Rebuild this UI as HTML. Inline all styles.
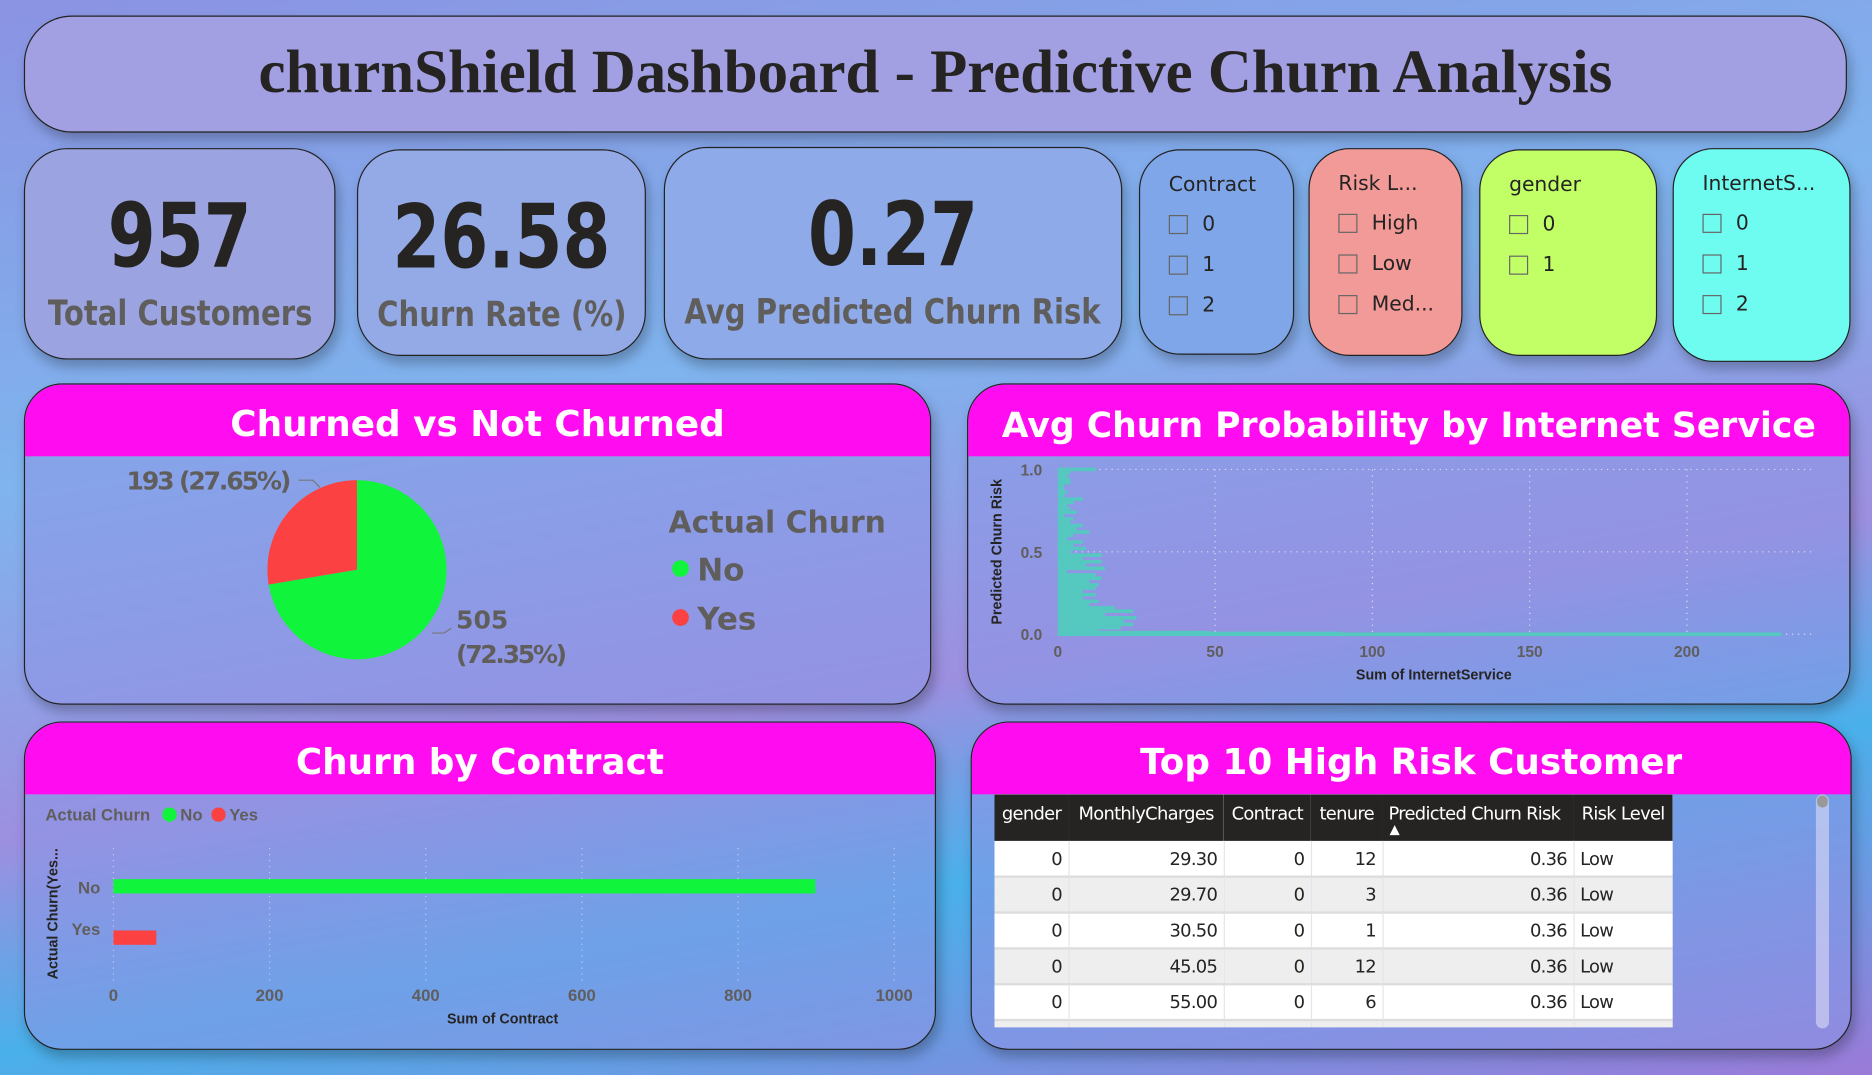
<!DOCTYPE html>
<html><head><meta charset="utf-8">
<style>
html,body{margin:0;padding:0;width:1872px;height:1075px;overflow:hidden}
body{background:linear-gradient(160deg,#8a8fe0 0%,#7ab0ec 30%,#8e98e4 55%,#3aa8e8 75%,#7f70d8 100%);font-family:"Liberation Sans",sans-serif}
#root{position:absolute;left:0;top:0;width:1568px;height:900px;transform:scale(1.19388,1.19444);transform-origin:0 0;
background:linear-gradient(170deg,#8b93e2 0%,#7fb4ee 35%,#9d8fe0 60%,#49b0ea 75%,#9b7ad8 100%)}
.box{position:absolute;border:1.5px solid #222;box-sizing:border-box;box-shadow:3px 6px 10px rgba(0,0,0,.25)}
.kpi{border-radius:36px;background:rgba(160,170,230,.75);text-align:center}
.kpi .v{font:bold 74px "DejaVu Sans","Liberation Sans",sans-serif;color:#252423;margin-top:36px;line-height:74px;transform:scaleX(0.78)}
.kpi .l{display:inline-block;font:bold 29px "DejaVu Sans","Liberation Sans",sans-serif;color:#605e5c;margin-top:10px;transform:scaleX(0.84);white-space:nowrap}
.kpi .lw{width:600px;margin-left:calc(50% - 300px);text-align:center}
.slicer{border-radius:34px;padding:19px 0 0 24px;font:17px "DejaVu Sans","Liberation Sans",sans-serif;color:#252423}
.slicer .it{display:flex;align-items:center;margin-top:12px;height:22px}
.cb{width:16px;height:16px;border:1.5px solid #666;margin-right:12px;box-sizing:border-box}
.panel{border-radius:32px;overflow:hidden;background:rgba(140,150,230,.55)}
.ph{height:60px;background:#ff0cf0;color:#fff;font:bold 30px "DejaVu Sans","Liberation Sans",sans-serif;text-align:center;line-height:68px}
td,th{font:15px "DejaVu Sans","Liberation Sans",sans-serif;letter-spacing:-0.6px;padding:0 5px;white-space:nowrap;overflow:hidden}
</style></head><body>
<div id="root">
<div class="box" style="left:20px;top:13px;width:1527px;height:98px;border-radius:40px;background:#a2a0e2;text-align:center">
<div style="font:bold 51px 'Liberation Serif',serif;color:#252423;line-height:94px">churnShield Dashboard - Predictive Churn Analysis</div></div>

<div class="box kpi" style="left:20px;top:124px;width:261px;height:177px;background:#9ba4e0"><div class="v">957</div><div class="lw"><div class="l">Total Customers</div></div></div>
<div class="box kpi" style="left:299px;top:125px;width:242px;height:173px;background:#94aae6"><div class="v">26.58</div><div class="lw"><div class="l">Churn Rate (%)</div></div></div>
<div class="box kpi" style="left:556px;top:123px;width:384px;height:178px;background:#8eaae8"><div class="v">0.27</div><div class="lw"><div class="l">Avg Predicted Churn Risk</div></div></div>

<div class="box slicer" style="left:954px;top:125px;width:130px;height:172px;background:#7ea6e8">Contract
<div class="it"><div class="cb"></div>0</div><div class="it"><div class="cb"></div>1</div><div class="it"><div class="cb"></div>2</div></div>
<div class="box slicer" style="left:1096px;top:124px;width:129px;height:174px;background:#f29a98">Risk L...
<div class="it"><div class="cb"></div>High</div><div class="it"><div class="cb"></div>Low</div><div class="it"><div class="cb"></div>Med...</div></div>
<div class="box slicer" style="left:1239px;top:125px;width:149px;height:173px;background:#c2ff66">gender
<div class="it"><div class="cb"></div>0</div><div class="it"><div class="cb"></div>1</div></div>
<div class="box slicer" style="left:1401px;top:124px;width:149px;height:179px;background:#6ffcf0">InternetS...
<div class="it"><div class="cb"></div>0</div><div class="it"><div class="cb"></div>1</div><div class="it"><div class="cb"></div>2</div></div>

<div class="box panel" style="left:20px;top:321px;width:760px;height:269px"><div class="ph">Churned vs Not Churned</div></div>
<div class="box panel" style="left:810px;top:321px;width:740px;height:269px"><div class="ph" style="font-size:29px">Avg Churn Probability by Internet Service</div></div>
<div class="box panel" style="left:20px;top:604px;width:764px;height:275px"><div class="ph">Churn by Contract</div></div>
<div class="box panel" style="left:813px;top:604px;width:738px;height:275px"><div class="ph">Top 10 High Risk Customer</div></div>

<svg id="charts" width="1568" height="900" style="position:absolute;left:0;top:0" font-family="Liberation Sans, sans-serif"></svg>

<div style="position:absolute;left:833px;top:665px;width:568px;height:195px;overflow:hidden;background:#fff">
<table style="border-collapse:collapse;width:568px;table-layout:fixed" id="tbl">
<colgroup><col style="width:62px"><col style="width:130px"><col style="width:73px"><col style="width:60px"><col style="width:160px"><col style="width:83px"></colgroup>
<thead><tr style="background:#252423;color:#fff;height:39px;vertical-align:top">
<th style="font-weight:normal;padding-top:7px">gender</th>
<th style="font-weight:normal;padding-top:7px">MonthlyCharges</th>
<th style="font-weight:normal;padding-top:7px">Contract</th>
<th style="font-weight:normal;padding-top:7px">tenure</th>
<th style="font-weight:normal;padding-top:7px;text-align:left;position:relative">Predicted Churn Risk<div style="position:absolute;left:6px;top:23px;font-size:11px">▲</div></th>
<th style="font-weight:normal;padding-top:7px">Risk Level</th></tr></thead>
<tbody id="tb"></tbody></table></div>
<div style="position:absolute;left:1521px;top:665px;width:11px;height:196px;border-radius:6px;background:rgba(220,220,245,.6)"><div style="width:9px;height:10px;margin:1px;border-radius:5px;background:#999"></div></div>
</div>

<script>
const pieLabels=["No","Yes"];
const pieValues=[505,193];
const contractCats=["No","Yes"];
const contractValues=[899,55];
const contractTicks=[0,200,400,600,800,1000];
const riskLevels=[1.0,0.98,0.96,0.94,0.92,0.9,0.88,0.86,0.84,0.82,0.8,0.78,0.76,0.74,0.72,0.7,0.68,0.66,0.64,0.62,0.6,0.58,0.56,0.54,0.52,0.5,0.48,0.46,0.44,0.42,0.4,0.38,0.36,0.34,0.32,0.3,0.28,0.26,0.24,0.22,0.2,0.18,0.16,0.14,0.12,0.1,0.08,0.06,0.04,0.02,0.01,0.005,0.0];
const riskCounts=[12,4,3,4,4,2,2,3,2,8,5,3,4,6,2,5,4,8,6,10,5,3,8,5,9,4,14,8,14,9,15,3,12,14,10,13,12,8,12,8,13,10,18,24,15,25,21,24,20,13,48,90,230];
const internetTicksX=[0,50,100,150,200];
const internetTicksY=[0,0.5,1.0];
const tableRows=[["0","29.30","0","12","0.36","Low"],["0","29.70","0","3","0.36","Low"],["0","30.50","0","1","0.36","Low"],["0","45.05","0","12","0.36","Low"],["0","55.00","0","6","0.36","Low"],["0","60.00","0","2","0.36","Low"]];

const NS="http://www.w3.org/2000/svg";
const svg=document.getElementById('charts');
function mk(tag,attrs,parent){const e=document.createElementNS(NS,tag);for(const k in attrs)e.setAttribute(k,attrs[k]);(parent||svg).appendChild(e);return e;}
function txt(s,attrs){const t=mk('text',attrs);t.textContent=s;return t;}

// Pie
const cx=299,cy=477,r=75,total=pieValues.reduce((a,b)=>a+b,0);
const pieColors=["#10f43c","#fb4141"];
let ang=0;
for(let i=pieValues.length-1;i>=0;i--){
  const a0=ang,a1=ang-pieValues[i]/total*2*Math.PI;ang=a1;
  const x0=cx+r*Math.sin(a0),y0=cy-r*Math.cos(a0),x1=cx+r*Math.sin(a1),y1=cy-r*Math.cos(a1);
  const large=Math.abs(a1-a0)>Math.PI?1:0;
  const p=mk('path',{d:`M${cx},${cy}L${x0},${y0}A${r},${r} 0 ${large} 0 ${x1},${y1}Z`,fill:pieColors[i]});
  
  
}
const pct=v=>(v/total*100).toFixed(2)+'%';
const lf='DejaVu Sans, sans-serif';
txt(`${pieValues[1]} (${pct(pieValues[1])})`,{x:106,y:410,'font-size':21,'font-weight':'bold',fill:'#605e5c','font-family':lf,textLength:138});
mk('path',{d:'M250,402 L262,402 L268,408',stroke:'#777',fill:'none'});
txt(`${pieValues[0]}`,{x:382,y:526,'font-size':21,'font-weight':'bold',fill:'#605e5c','font-family':lf});
txt(`(${pct(pieValues[0])})`,{x:382,y:555,'font-size':21,'font-weight':'bold',fill:'#605e5c','font-family':lf,textLength:93});
mk('path',{d:'M362,530 L372,530 L378,526',stroke:'#777',fill:'none'});
txt('Actual Churn',{x:560,y:446,'font-size':25,'font-weight':'bold',fill:'#605e5c','font-family':lf});
pieLabels.forEach((l,i)=>{mk('circle',{cx:570,cy:476+i*41,r:7,fill:pieColors[i]});
  txt(l,{x:584,y:486+i*41,'font-size':26,'font-weight':'bold',fill:'#605e5c','font-family':lf});});

// Internet service chart
const ix=v=>886+v*2.635, iy=v=>531-v*138;
internetTicksY.forEach(t=>{mk('line',{x1:886,x2:1520,y1:iy(t),y2:iy(t),stroke:'#dde','stroke-dasharray':'1,4'});
  txt(t.toFixed(1),{x:873,y:iy(t)+5,'font-size':13,'text-anchor':'end',fill:'#605e5c','font-weight':'bold'});});
internetTicksX.forEach(t=>{if(t>0)mk('line',{x1:ix(t),x2:ix(t),y1:393,y2:531,stroke:'#dde','stroke-dasharray':'1,4'});
  txt(t,{x:ix(t),y:550,'font-size':13,'text-anchor':'middle',fill:'#605e5c','font-weight':'bold'});});
riskLevels.forEach((lv,i)=>{const b=mk('rect',{x:886,y:iy(lv)-1.5,width:ix(riskCounts[i])-886,height:3,fill:'#55c8c0'});
  
  });
txt('Sum of InternetService',{x:1201,y:569,'font-size':12,'font-weight':'bold','text-anchor':'middle',fill:'#252423'});
txt('Predicted Churn Risk',{x:0,y:0,'font-size':12,'font-weight':'bold','text-anchor':'middle',fill:'#252423',transform:'translate(839,462) rotate(-90)'});

// Contract chart
txt('Actual Churn',{x:38,y:687,'font-size':14,'font-weight':'bold',fill:'#605e5c'});
mk('circle',{cx:142,cy:682,r:6,fill:'#10f43c'});txt('No',{x:151,y:687,'font-size':14,'font-weight':'bold',fill:'#605e5c'});
mk('circle',{cx:183,cy:682,r:6,fill:'#fb4141'});txt('Yes',{x:192,y:687,'font-size':14,'font-weight':'bold',fill:'#605e5c'});
const cxs=v=>95+v*0.654;
contractTicks.forEach(t=>{mk('line',{x1:cxs(t),x2:cxs(t),y1:710,y2:822,stroke:'#c8c8ee','stroke-dasharray':'1,4'});
  txt(t,{x:cxs(t),y:838,'font-size':14,'font-weight':'bold','text-anchor':'middle',fill:'#605e5c'});});
const cy0=[742,785];
contractCats.forEach((c,i)=>{const b=mk('rect',{x:95,y:cy0[i]-6,width:cxs(contractValues[i])-95,height:12,fill:pieColors[i]});
  
  
  txt(c,{x:84,y:cy0[i]+2+(i?-4:4),'font-size':14,'font-weight':'bold','text-anchor':'end',fill:'#605e5c'});});
txt('Sum of Contract',{x:421,y:857,'font-size':12,'font-weight':'bold','text-anchor':'middle',fill:'#252423'});
txt('Actual Churn(Yes...',{x:0,y:0,'font-size':12,'font-weight':'bold','text-anchor':'middle',fill:'#252423',transform:'translate(48,765) rotate(-90)'});

// Table
const tb=document.getElementById('tb');
tableRows.forEach((row,i)=>{const tr=document.createElement('tr');
  
  
  tr.style.height='30px';tr.style.background=i%2?'#eeeeee':'#ffffff';tr.style.color='#252423';
  row.forEach((v,j)=>{const td=document.createElement('td');td.textContent=v;td.style.textAlign=j==5?'left':'right';td.style.borderRight='1px solid #e4e4ec';td.style.borderBottom='2px solid #ddd';tr.appendChild(td);});
  tb.appendChild(tr);});
</script>
</body></html>
